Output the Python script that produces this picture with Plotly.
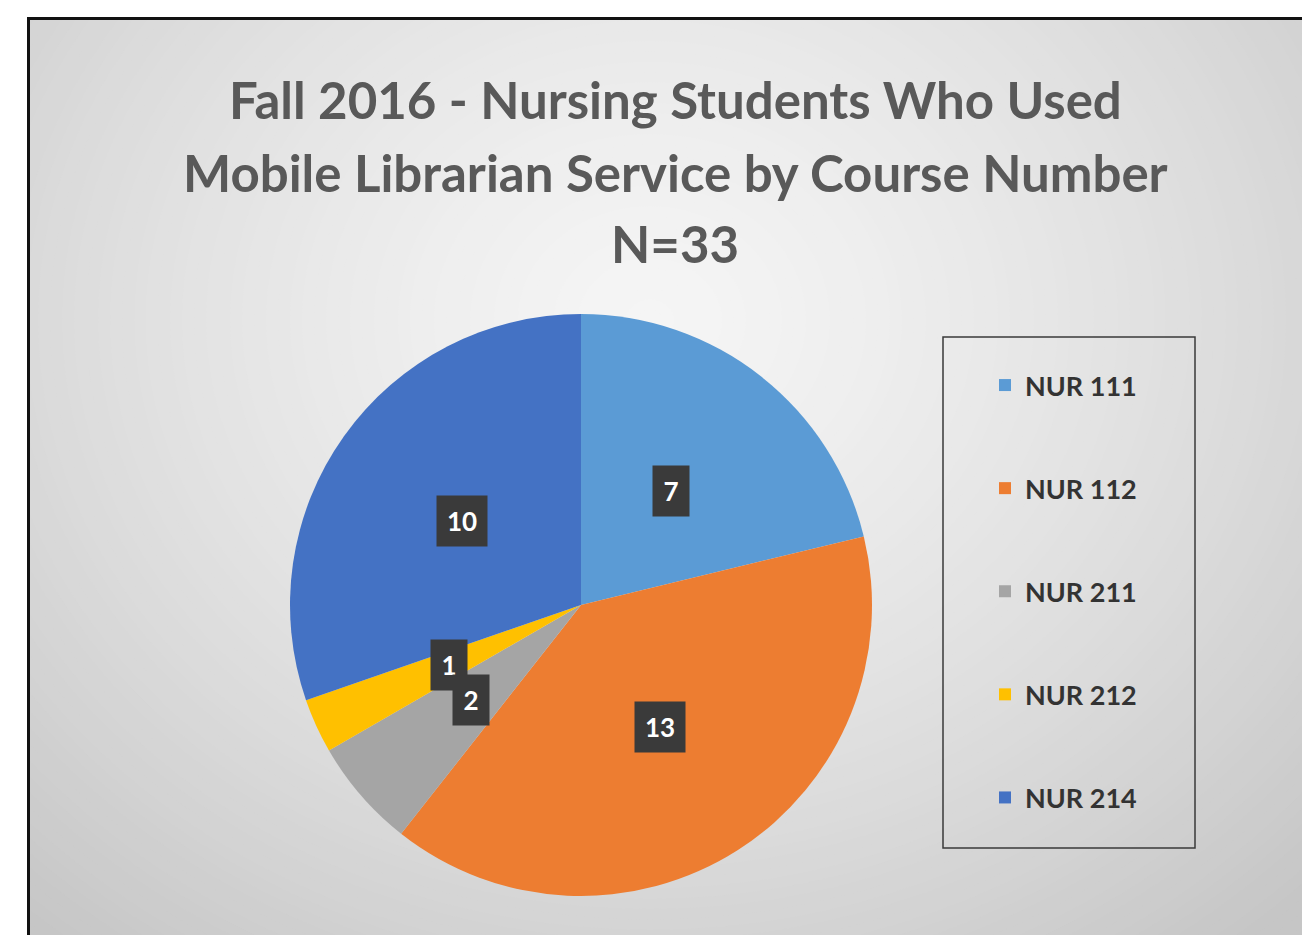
import math
import plotly.graph_objects as go

# ---- data ----
courses = ["NUR 111", "NUR 112", "NUR 211", "NUR 212", "NUR 214"]
students = [7, 13, 2, 1, 10]
colors = ["#5B9BD5", "#ED7D31", "#A5A5A5", "#FFC000", "#4472C4"]
title_lines = ["Fall 2016 - Nursing Students Who Used",
               "Mobile Librarian Service by Course Number",
               "N=33"]

W, H = 1302, 935
cx, cy, R = 581, 605, 291  # pie centre / radius in px


def px(x):
    return x / W


def py(y):
    return 1 - y / H


fig = go.Figure()

fig.add_trace(go.Pie(
    labels=courses, values=students, sort=False, direction="clockwise",
    rotation=0, marker=dict(colors=colors, line=dict(width=0)),
    textinfo="none", showlegend=False, hoverinfo="label+value",
    domain=dict(x=[px(cx - R), px(cx + R)], y=[py(cy + R), py(cy - R)]),
))

# legend entries (same labels/colours as the slices)
for name, col in zip(courses, colors):
    fig.add_trace(go.Scatter(
        x=[None], y=[None], mode="markers", name=name, legendgroup=name,
        marker=dict(symbol="square", size=12, color=col), showlegend=True,
    ))

shapes = []
# background radial gradient
gx, gy, grx, gry = 650, 320, 720, 620
N = 90
for i in range(N, 0, -1):
    k = 1.5 * i / N
    t = min(k / 1.3, 1.0) ** 1.35
    c = int(round(245 - (245 - 198) * t))
    shapes.append(dict(type="circle", xref="paper", yref="paper",
                       x0=px(gx - k * grx), x1=px(gx + k * grx),
                       y0=py(gy + k * gry), y1=py(gy - k * gry),
                       fillcolor=f"rgb({c},{c},{c})", line=dict(width=0),
                       layer="below"))
# white outside frame
shapes.append(dict(type="rect", xref="paper", yref="paper", x0=-0.1, x1=1.1,
                   y0=py(18), y1=1.1, fillcolor="white", line=dict(width=0), layer="below"))
shapes.append(dict(type="rect", xref="paper", yref="paper", x0=-0.1, x1=px(28),
                   y0=-0.1, y1=1.1, fillcolor="white", line=dict(width=0), layer="below"))
# frame border
shapes.append(dict(type="rect", xref="paper", yref="paper", x0=px(28.5), x1=1.05,
                   y0=-0.05, y1=py(18.5), line=dict(color="#111111", width=3),
                   fillcolor="rgba(0,0,0,0)", layer="below"))
# legend box
shapes.append(dict(type="rect", xref="paper", yref="paper", x0=px(943), x1=px(1195),
                   y0=py(848), y1=py(337), line=dict(color="#3a3a3a", width=1.5),
                   fillcolor="rgba(0,0,0,0)", layer="below"))

annotations = []
title_y = [100, 172, 243]
for txt, yy in zip(title_lines, title_y):
    annotations.append(dict(text=txt, xref="paper", yref="paper", x=px(675), y=py(yy),
                            xanchor="center", yanchor="middle", showarrow=False,
                            font=dict(family="Lato", size=51, color="#595959", weight="bold")))

# data labels at half radius, mid-angle of each slice
total = sum(students)
cum = 0
label_ann = []
for v in students:
    mid = (cum + v / 2) / total * 2 * math.pi
    cum += v
    lx = cx + 0.5 * R * math.sin(mid)
    ly = cy - 0.5 * R * math.cos(mid)
    label_ann.append(dict(text=str(v), xref="paper", yref="paper", x=px(lx), y=py(ly),
                          xanchor="center", yanchor="middle", showarrow=False,
                          width=34 if v < 10 else 48, height=48, bgcolor="#3a3a3a",
                          borderpad=1,
                          font=dict(family="Lato", size=26, color="white", weight="bold")))
order = [0, 1, 4, 3, 2]
annotations += [label_ann[i] for i in order]

fig.update_layout(
    width=W, height=H, margin=dict(l=0, r=0, t=0, b=0),
    paper_bgcolor="white", plot_bgcolor="rgba(0,0,0,0)",
    xaxis=dict(visible=False), yaxis=dict(visible=False),
    shapes=shapes, annotations=annotations,
    legend=dict(x=px(985), y=py(361), xanchor="left", yanchor="top",
                bgcolor="rgba(0,0,0,0)", borderwidth=0, tracegroupgap=65,
                font=dict(family="Lato", size=27, color="#333333", weight="bold")),
)

fig.write_html("out.html")
